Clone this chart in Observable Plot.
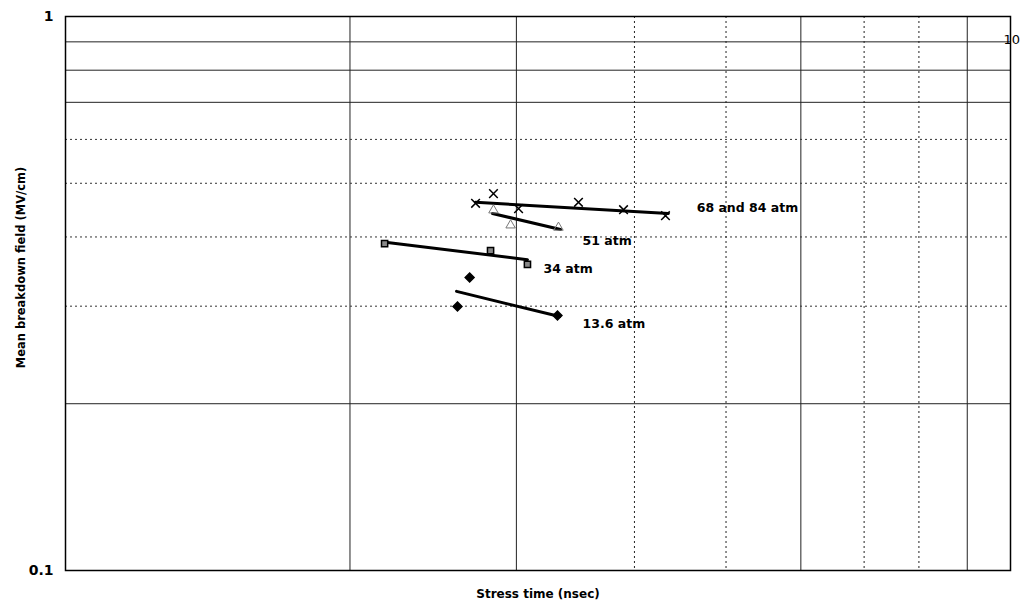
<!DOCTYPE html>
<html>
<head>
<meta charset="utf-8">
<script src="https://cdn.jsdelivr.net/npm/d3@7"></script>
<script src="https://cdn.jsdelivr.net/npm/@observablehq/plot@0.6"></script>
<style>
  html, body { margin: 0; padding: 0; background: #fff; }
  #chart svg { display: block; }
</style>
</head>
<body>
<div id="chart"></div>
<script>
// ---- data (x: stress time, y: mean breakdown field MV/cm) ----
const series = ["68 and 84 atm", "51 atm", "34 atm", "13.6 atm"];

const x68 = [2.716, 2.837, 3.016, 3.490, 3.895, 4.314];
const y68 = [0.460, 0.479, 0.450, 0.462, 0.448, 0.437];

const x51 = [2.837, 2.958, 3.324];
const y51 = [0.447, 0.420, 0.416];

const x34 = [2.176, 2.817, 3.082];
const y34 = [0.389, 0.378, 0.357];

const x13 = [2.677, 2.599, 3.316];
const y13 = [0.338, 0.2995, 0.2885];

// fitted trend lines (end points as read)
const fitX68 = [2.716, 4.345], fitY68 = [0.462, 0.441];
const fitX51 = [2.830, 3.341], fitY51 = [0.441, 0.4126];
const fitX34 = [2.191, 3.082], fitY34 = [0.391, 0.364];
const fitX13 = [2.593, 3.333], fitY13 = [0.319, 0.2873];

// series labels
const labelX = [4.655, 3.525, 3.205, 3.525];
const labelY = [0.452, 0.394, 0.3494, 0.278];

// grid ticks
const xGridSolid = [2, 3, 6, 9];
const xGridDotted = [4, 5, 7, 8];
const yGridSolid = [0.2, 0.7, 0.8, 0.9];
const yGridDotted = [0.3, 0.4, 0.5, 0.6];
const yTicks = [0.1, 1];
const yTickLabels = ["0.1", "1"];
const cornerLabel = "10";
const xTitle = "Stress time (nsec)";
const yTitle = "Mean breakdown field (MV/cm)";

// ---- build tables ----
const pts = (xs, ys, s) => xs.map((x, i) => ({x, y: ys[i], s}));
const p68 = pts(x68, y68, series[0]);
const p51 = pts(x51, y51, series[1]);
const p34 = pts(x34, y34, series[2]);
const p13 = pts(x13, y13, series[3]);
const fits = [
  pts(fitX68, fitY68, series[0]),
  pts(fitX51, fitY51, series[1]),
  pts(fitX34, fitY34, series[2]),
  pts(fitX13, fitY13, series[3])
].flat();
const labels = series.map((s, i) => ({s, x: labelX[i], y: labelY[i]}));
const yTickRows = yTicks.map((v, i) => ({v, t: yTickLabels[i]}));

const font = "'DejaVu Sans', 'Liberation Sans', Arial, sans-serif";

const chart = Plot.plot({
  width: 1021,
  height: 609,
  marginLeft: 65,
  marginRight: 11,
  marginTop: 16,
  marginBottom: 39,
  style: {fontFamily: font, background: "#fff", color: "#000"},
  x: {type: "log", domain: [1, 10], axis: null},
  y: {type: "log", domain: [0.1, 1], axis: null},
  marks: [
    Plot.ruleX(xGridDotted, {stroke: "#222", strokeWidth: 1, strokeDasharray: "2,3"}),
    Plot.ruleX(xGridSolid, {stroke: "#222", strokeWidth: 1}),
    Plot.ruleY(yGridDotted, {stroke: "#333", strokeWidth: 1, strokeDasharray: "2,3"}),
    Plot.ruleY(yGridSolid, {stroke: "#222", strokeWidth: 1}),
    Plot.frame({stroke: "#000", strokeWidth: 1.5}),
    Plot.text(yTickRows, {y: "v", text: "t", frameAnchor: "left", textAnchor: "end", dx: -12,
      fontSize: 14, fontWeight: "bold", fill: "#000"}),
    Plot.text([yTitle], {frameAnchor: "left", text: d => d, rotate: -90, textAnchor: "middle",
      dx: -44, dy: -26, fontSize: 11.5, fontWeight: "bold", fill: "#000"}),
    Plot.text([xTitle], {frameAnchor: "bottom", text: d => d, dy: 27,
      fontSize: 12, fontWeight: "bold", fill: "#000"}),
    Plot.line(fits, {x: "x", y: "y", z: "s", stroke: "#000", strokeWidth: 3}),
    Plot.dot(p68, {x: "x", y: "y", symbol: "times", r: 4, stroke: "#000", strokeWidth: 1.5}),
    Plot.dot(p51, {x: "x", y: "y", symbol: "triangle", r: 3.5, stroke: "#777", strokeWidth: 1}),
    Plot.dot(p34, {x: "x", y: "y", symbol: "square", r: 3.5, stroke: "#000", strokeWidth: 1.5, fill: "#888"}),
    Plot.dot(p13, {x: "x", y: "y", symbol: "diamond2", r: 4, fill: "#000", stroke: "#000"}),
    Plot.text(labels, {x: "x", y: "y", text: "s", textAnchor: "start", fontSize: 12.5,
      fontWeight: "bold", fill: "#000"}),
    Plot.text([cornerLabel], {x: 10, y: 0.9, text: d => d, textAnchor: "start", dx: -7, dy: -2,
      fontSize: 13, fill: "#000"})
  ]
});

document.getElementById("chart").append(chart);
</script>
</body>
</html>
